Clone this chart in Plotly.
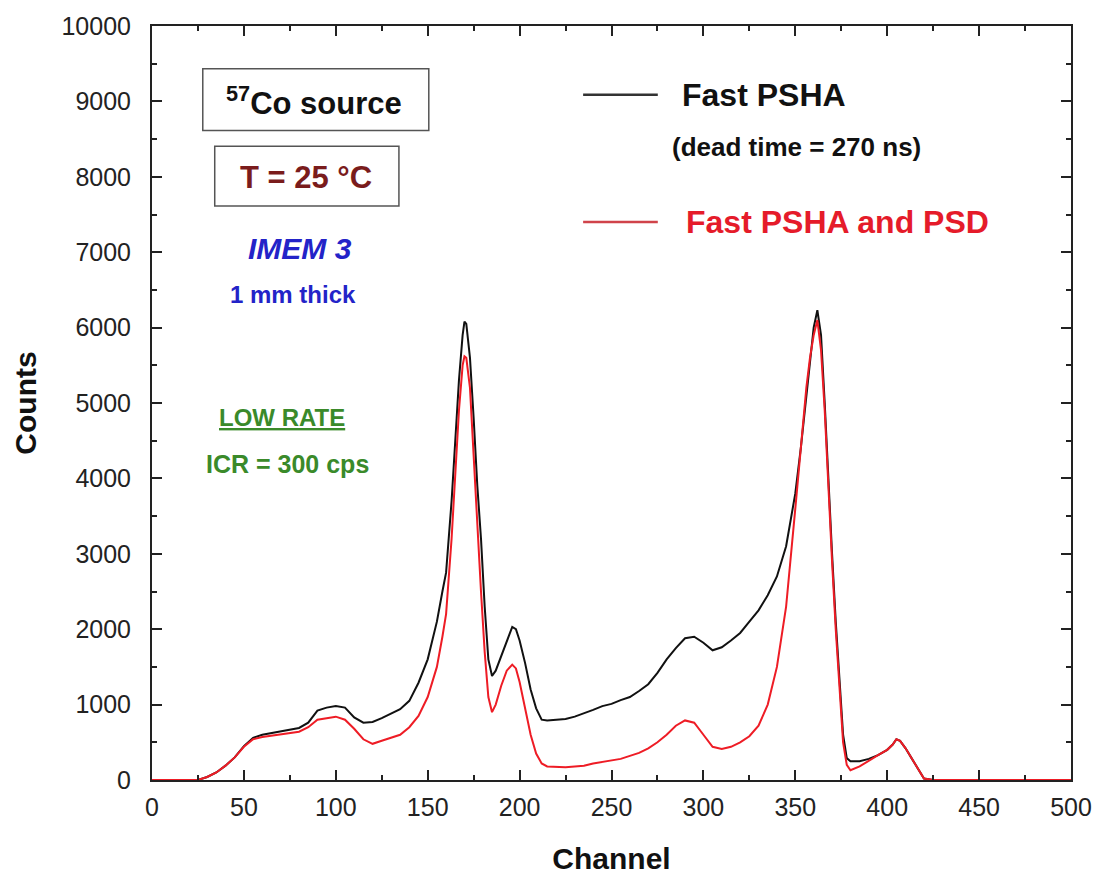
import plotly.graph_objects as go

channels = [0, 20, 25, 30, 35, 40, 45, 50, 55, 60, 65, 70, 75, 80, 85, 90, 95, 100, 105, 110,
            115, 120, 125, 130, 135, 140, 145, 150, 155, 158, 160, 163, 165, 167, 169, 170, 171,
            173, 175, 177, 179, 181, 183, 185, 187, 190, 193, 196, 198, 200, 203, 206, 209, 212,
            215, 220, 225, 230, 235, 240, 245, 250, 255, 260, 265, 270, 275, 280, 285, 290, 295,
            300, 305, 310, 315, 320, 325, 330, 335, 340, 345, 350, 353, 356, 358, 360, 362, 364,
            366, 368, 370, 372, 374, 376, 378, 380, 385, 390, 395, 400, 403, 405, 407, 410, 413,
            416, 420, 425, 500]

fast_psha = [0, 0, 0, 40, 100, 190, 300, 450, 560, 600, 620, 650, 670, 690, 760, 920, 960, 980, 960, 830,
             760, 770, 820, 880, 940, 1050, 1290, 1600, 2100, 2500, 2750, 3700, 4500, 5300, 5900, 6080, 6050,
             5600, 4800, 3900, 3200, 2300, 1600, 1380, 1450, 1650, 1850, 2030, 2000, 1850, 1550, 1200, 950, 800,
             790, 800, 810, 840, 880, 930, 980, 1010, 1060, 1100, 1180, 1270, 1420, 1600, 1750, 1880, 1900,
             1820, 1720, 1760, 1850, 1950, 2100, 2250, 2450, 2700, 3100, 3800, 4400, 5100, 5600, 6000, 6230, 5900,
             5000, 3900, 3000, 2100, 1300, 600, 290, 250, 250, 280, 330, 400, 470, 540, 520, 420, 300,
             180, 20, 0, 0]

fast_psha_psd = [0, 0, 0, 40, 100, 190, 300, 440, 540, 570, 590, 610, 620, 640, 700, 800, 820, 840, 800, 680,
                 540, 480, 520, 560, 600, 700, 850, 1100, 1500, 1900, 2200, 3200, 4000, 4900, 5500, 5620, 5600,
                 5200, 4300, 3300, 2500, 1700, 1100, 900, 1000, 1250, 1450, 1530, 1480, 1300, 950, 600, 350, 220,
                 180, 170, 170, 180, 190, 220, 240, 260, 280, 320, 360, 420, 500, 600, 720, 790, 760,
                 600, 440, 410, 440, 500, 580, 720, 1000, 1500, 2300, 3600, 4400, 5200, 5600, 5900, 6100, 5700,
                 4900, 3800, 2900, 2000, 1200, 500, 200, 130, 180, 260, 330, 400, 470, 540, 520, 420, 300,
                 180, 20, 0, 0]

x_ticks = [0, 50, 100, 150, 200, 250, 300, 350, 400, 450, 500]
y_ticks = [0, 1000, 2000, 3000, 4000, 5000, 6000, 7000, 8000, 9000, 10000]

FONT = "Liberation Sans, Arial, sans-serif"
BLACK = "#111111"
RED = "#ee1c25"

fig = go.Figure()
fig.add_trace(go.Scatter(x=channels, y=fast_psha, mode="lines",
                         line=dict(color=BLACK, width=2), name="Fast PSHA", showlegend=False))
fig.add_trace(go.Scatter(x=channels, y=fast_psha_psd, mode="lines",
                         line=dict(color=RED, width=2), name="Fast PSHA and PSD", showlegend=False))

axis_common = dict(
    showline=True, linecolor="#222", linewidth=2, mirror="allticks",
    ticks="inside", ticklen=10, tickwidth=2, tickcolor="#222",
    showgrid=False, zeroline=False,
    tickfont=dict(family=FONT, size=25, color="#222"),
)
fig.update_xaxes(range=[0, 500], tickvals=x_ticks, ticktext=[str(v) for v in x_ticks],
                 ticklabelstandoff=4,
                 minor=dict(ticks="inside", ticklen=5, tickwidth=2, tickcolor="#222", dtick=25, tick0=0),
                 title=dict(text="<b>Channel</b>", font=dict(family=FONT, size=30, color="#111"), standoff=28),
                 **axis_common)
fig.update_yaxes(range=[0, 10000], tickvals=y_ticks, ticktext=[str(v) for v in y_ticks],
                 ticklabelstandoff=14,
                 minor=dict(ticks="inside", ticklen=5, tickwidth=2, tickcolor="#222", dtick=500, tick0=0),
                 title=dict(text="<b>Counts</b>", font=dict(family=FONT, size=30, color="#111"), standoff=16),
                 **axis_common)

W, H = 1104, 882
L, R, T, B = 152, 29, 23, 101
pw, ph = W - L - R, H - T - B


def px(x):
    return (x - L) / pw


def py(y):
    return (H - B - y) / ph


shapes = [
    dict(type="rect", xref="paper", yref="paper", x0=px(203), x1=px(430), y0=py(128), y1=py(66),
         line=dict(color="#555", width=1.5)),
    dict(type="rect", xref="paper", yref="paper", x0=px(215), x1=px(400), y0=py(204), y1=py(144),
         line=dict(color="#555", width=1.5)),
    dict(type="line", xref="paper", yref="paper", x0=px(585), x1=px(660), y0=py(92), y1=py(92),
         line=dict(color="#333", width=2.5)),
    dict(type="line", xref="paper", yref="paper", x0=px(585), x1=px(660), y0=py(220), y1=py(220),
         line=dict(color="#d0434a", width=2.5)),
]
fig.update_layout(shapes=shapes)

ann = [
    ("<b><sup>57</sup>Co source</b>", 315, 98, 31, "#111", "center"),
    ("<b>T = 25 °C</b>", 307, 175, 31, "#7a1c1c", "center"),
    ("<b><i>IMEM 3</i></b>", 301, 247, 30, "#2323c8", "center"),
    ("<b>1 mm thick</b>", 294, 293, 24, "#2323c8", "center"),
    ("<b><u>LOW RATE</u></b>", 283, 417, 24, "#3a8a2a", "center"),
    ("<b>ICR = 300 cps</b>", 288, 463, 25, "#3a8a2a", "center"),
    ("<b>Fast PSHA</b>", 682, 92, 32, "#111", "left"),
    ("<b>(dead time = 270 ns)</b>", 672, 145, 26, "#111", "left"),
    ("<b>Fast PSHA and PSD</b>", 686, 220, 32, "#e51b2a", "left"),
]
annotations = []
for text, x, y, size, color, anchor in ann:
    annotations.append(dict(text=text, xref="paper", yref="paper", x=px(x), y=py(y),
                            xanchor=anchor, yanchor="middle", showarrow=False,
                            font=dict(family=FONT, size=size, color=color)))
fig.update_layout(annotations=annotations)

fig.update_layout(
    width=W, height=H,
    margin=dict(l=L, r=R, t=T, b=B),
    paper_bgcolor="white", plot_bgcolor="white",
    font=dict(family=FONT),
)

fig.write_html("out.html")
